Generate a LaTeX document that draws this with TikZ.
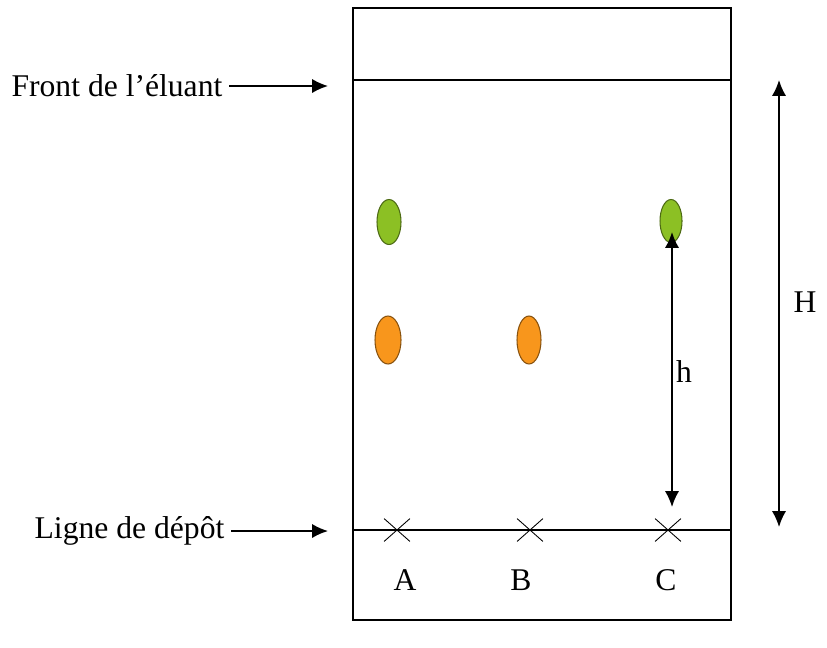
\documentclass[tikz,border=0pt]{standalone}
\usepackage{fontspec}
\setmainfont{Liberation Serif}
\usetikzlibrary{arrows.meta,shapes.geometric,shapes.misc,positioning}
\usepackage{xcolor}
\definecolor{spotgreen}{RGB}{140,192,36}
\definecolor{spotorange}{RGB}{248,150,28}

\begin{document}
\begin{tikzpicture}[x=0.02cm,y=-0.02cm,line width=0.9pt,
  every node/.style={font=\fontsize{18}{21}\selectfont},
  spot/.style={ellipse,draw=#1!55!black,fill=#1,line width=0.6pt,inner sep=0pt},
  tip/.style={-{Latex[length=9pt,width=8pt]}},
  tips/.style={{Latex[length=9pt,width=8pt]}-{Latex[length=9pt,width=8pt]}}]
  \useasboundingbox (0,0) rectangle (827,647);
  % plate
  \draw (353,8) rectangle (731,620);
  \draw (353,80) -- (731,80);
  \draw (353,530) -- (731,530);
  % depot marks and samples
  \foreach \name/\xx/\lx in {A/397/405,B/530/521,C/668/666}{%
    \node[cross out,draw,line width=0.5pt,minimum width=0.5cm,minimum height=0.44cm,
      inner sep=0pt] (x\name) at (\xx,530) {};
    \node (l\name) at (\lx,580) {\name};
  }
  % spots
  \node[spot=spotgreen,minimum width=0.48cm,minimum height=0.9cm] (gA) at (389,222) {};
  \node[spot=spotorange,minimum width=0.52cm,minimum height=0.96cm] (oA) at (388,340) {};
  \node[spot=spotorange,minimum width=0.48cm,minimum height=0.96cm] (oB) at (529,340) {};
  \node[spot=spotgreen,minimum width=0.44cm,minimum height=0.86cm] (gC) at (671,221) {};
  % labels
  \node[anchor=east] (front) at (229,86) {Front de l’éluant};
  \node[anchor=east] (depot) at (231,531) {Ligne de dépôt};
  \coordinate (frontend) at (328,86);
  \coordinate (depotend) at (328,531);
  \draw[tip] (front.east) -- (frontend);
  \draw[tip] (depot.east) -- (depotend);
  % heights
  \coordinate (htop) at (672,232);
  \coordinate (hbot) at (672,507);
  \coordinate (Htop) at (779,80);
  \coordinate (Hbot) at (779,527);
  \draw[tips] (htop) -- (hbot);
  \draw[tips] (Htop) -- (Hbot);
  \node (h) at (684,372) {h};
  \node (H) at (805,302) {H};
\end{tikzpicture}
\end{document}
